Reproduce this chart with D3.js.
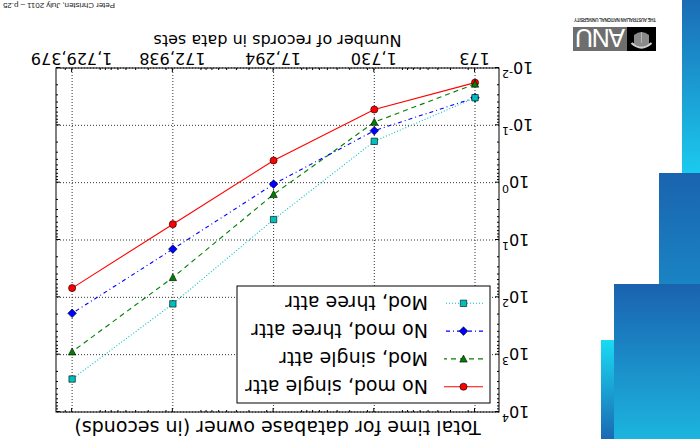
<!DOCTYPE html>
<html>
<head>
<meta charset="utf-8">
<script src="https://cdn.jsdelivr.net/npm/d3@7"></script>
<style>
  body { margin: 0; background: #fff; }
  svg { display: block; font-family: "DejaVu Sans", sans-serif; }
</style>
</head>
<body>
<svg id="slide"></svg>
<script>
// number of records in each data set (x axis)
const recordCounts = [173, 1730, 17294, 172938, 1729379];
const recordLabels = ['173', '1,730', '17,294', '172,938', '1,729,379'];

// total time in seconds
const noModSingleAttr = [0.018, 0.053, 0.41, 5.3, 69];
const modSingleAttr   = [0.019, 0.088, 1.6, 45, 890];
const noModThreeAttr  = [0.033, 0.124, 1.06, 14.4, 190];
const modThreeAttr    = [0.033, 0.19, 4.4, 130, 2660];

const seriesNames = ['No mod, single attr', 'Mod, single attr', 'No mod, three attr', 'Mod, three attr'];
const yExponents = [-2, -1, 0, 1, 2, 3, 4];

class slideChart {

  constructor(_config) {
    this.config = {
      parentElement: _config.parentElement,
      containerWidth: _config.containerWidth || 700,
      containerHeight: _config.containerHeight || 439,
      plot: _config.plot || {left: 201, right: 644, top: 27, bottom: 371}
    };
    this.series = [noModSingleAttr, modSingleAttr, noModThreeAttr, modThreeAttr].map((vals, i) => ({
      name: seriesNames[i],
      points: vals.map((v, j) => ({x: recordCounts[j], y: v}))
    }));
    this.styles = [
      {color: '#ff0000', dash: null,      marker: 'circle'},
      {color: '#008000', dash: '5,4',     marker: 'triangle'},
      {color: '#0000ff', dash: '4,3,1,3', marker: 'diamond'},
      {color: '#00bfbf', dash: '1,2',     marker: 'square'}
    ];
    this.initVis();
  }

  markerPath(type) {
    switch (type) {
      case 'circle':   return d3.symbol(d3.symbolCircle, 40)();
      case 'square':   return 'M-3.2,-3.2h6.4v6.4h-6.4Z';
      case 'diamond':  return 'M0,-4.3L4.3,0L0,4.3L-4.3,0Z';
      case 'triangle': return 'M0,3.8L3.7,-3.2L-3.7,-3.2Z';
    }
  }

  initVis() {
    let vis = this;
    let p = vis.config.plot;

    vis.svg = d3.select(vis.config.parentElement)
        .attr('width', vis.config.containerWidth)
        .attr('height', vis.config.containerHeight);

    // the whole slide is shown upside down
    vis.slide = vis.svg.append('g')
        .attr('transform', `rotate(180 ${vis.config.containerWidth / 2} ${vis.config.containerHeight / 2})`);

    vis.xScale = d3.scaleLog().domain([100, 2.5e6]).range([p.left, p.right]);
    vis.yScale = d3.scaleLog().domain([1e-2, 1e4]).range([p.bottom, p.top]);

    vis.drawTheme();
    vis.renderVis();
  }

  drawTheme() {
    let vis = this;
    let defs = vis.svg.append('defs');
    const grad = (id, c0, c1) => {
      let g = defs.append('linearGradient').attr('id', id)
          .attr('x1', 0).attr('y1', 0).attr('x2', 0).attr('y2', 1);
      g.append('stop').attr('offset', '0%').attr('stop-color', c0);
      g.append('stop').attr('offset', '100%').attr('stop-color', c1);
    };
    grad('gA', '#1bcaee', '#1b6cb5');
    grad('gB', '#1ab2df', '#1a63af');
    grad('gC', '#1cb5df', '#1a62af');
    grad('gD', '#1a69b2', '#19dbf3');

    let bars = vis.slide.append('g');
    bars.append('rect').attr('x', 0).attr('y', 266).attr('width', 18).attr('height', 173).attr('fill', 'url(#gA)');
    bars.append('rect').attr('x', 0).attr('y', 0).attr('width', 41).attr('height', 266).attr('fill', 'url(#gB)');
    bars.append('rect').attr('x', 0).attr('y', 0).attr('width', 86).attr('height', 155).attr('fill', 'url(#gC)');
    bars.append('rect').attr('x', 86).attr('y', 0).attr('width', 13).attr('height', 99).attr('fill', 'url(#gD)');

    // ANU logo
    let logo = vis.slide.append('g');
    logo.append('rect').attr('x', 44).attr('y', 388).attr('width', 29).attr('height', 24).attr('fill', '#000');
    logo.append('path')
        .attr('d', 'M51,395 Q58.5,390 66,395 L66,404 Q58.5,410 51,404 Z')
        .attr('fill', '#8a8a8a');
    logo.append('path')
        .attr('d', 'M48.5,396 Q58.5,387 68.5,396')
        .attr('fill', 'none').attr('stroke', '#d0d0d0').attr('stroke-width', 2.2);
    logo.append('line')
        .attr('x1', 58.5).attr('x2', 58.5).attr('y1', 396).attr('y2', 407)
        .attr('stroke', '#b5b5b5').attr('stroke-width', 1);
    logo.append('rect').attr('x', 73).attr('y', 388).attr('width', 54).attr('height', 24).attr('fill', '#6e6e6e');
    logo.append('text')
        .attr('x', 100).attr('y', 410)
        .attr('text-anchor', 'middle')
        .attr('textLength', 50)
        .style('font-family', '"Liberation Sans", sans-serif')
        .style('font-size', '25px')
        .attr('fill', '#fff')
        .text('ANU');
    logo.append('text')
        .attr('x', 44).attr('y', 421)
        .attr('textLength', 82)
        .style('font-family', '"Liberation Sans", sans-serif')
        .style('font-size', '4.5px')
        .style('font-weight', 'bold')
        .attr('fill', '#333')
        .text('THE AUSTRALIAN NATIONAL UNIVERSITY');

    vis.slide.append('text')
        .attr('x', 697).attr('y', 436)
        .attr('text-anchor', 'end')
        .attr('textLength', 112)
        .style('font-family', '"Liberation Sans", sans-serif')
        .style('font-size', '8px')
        .attr('fill', '#222')
        .text('Peter Christen, July 2011 \u2013 p.25');
  }

  renderVis() {
    let vis = this;
    let p = vis.config.plot;
    let chart = vis.slide.append('g');

    let yMajor = yExponents.map(e => Math.pow(10, e));
    let yMinor = [];
    yExponents.slice(0, -1).forEach(e => {
      for (let m = 2; m < 10; m++) yMinor.push(m * Math.pow(10, e));
    });
    let xMinor = [];
    for (let e = 2; e <= 6; e++) {
      for (let m = 2; m < 10; m++) {
        let v = m * Math.pow(10, e);
        if (v <= 2.5e6) xMinor.push(v);
      }
    }

    // dotted grid
    chart.append('g').selectAll('line.vgrid')
        .data(recordCounts)
      .join('line')
        .attr('x1', d => vis.xScale(d)).attr('x2', d => vis.xScale(d))
        .attr('y1', p.top).attr('y2', p.bottom)
        .attr('stroke', '#333').attr('stroke-width', 1).attr('stroke-dasharray', '1,2');
    chart.append('g').selectAll('line.hgrid')
        .data(yMajor)
      .join('line')
        .attr('y1', d => vis.yScale(d)).attr('y2', d => vis.yScale(d))
        .attr('x1', p.left).attr('x2', p.right)
        .attr('stroke', '#333').attr('stroke-width', 1).attr('stroke-dasharray', '1,2');

    // ticks on all four sides, pointing inwards
    const addAxis = (axis, tx, ty) => {
      let g = chart.append('g').attr('transform', `translate(${tx},${ty})`).call(axis);
      g.select('.domain').remove();
      g.selectAll('.tick line').attr('stroke', '#000');
      return g;
    };
    addAxis(d3.axisLeft(vis.yScale).tickValues(yMinor).tickSize(-2).tickFormat(''), p.left, 0);
    addAxis(d3.axisRight(vis.yScale).tickValues(yMinor).tickSize(-2).tickFormat(''), p.right, 0);
    addAxis(d3.axisRight(vis.yScale).tickValues(yMajor).tickSize(-4).tickFormat(''), p.right, 0);
    addAxis(d3.axisBottom(vis.xScale).tickValues(xMinor).tickSize(-2).tickFormat(''), 0, p.bottom);
    addAxis(d3.axisTop(vis.xScale).tickValues(xMinor).tickSize(-2).tickFormat(''), 0, p.top);
    addAxis(d3.axisTop(vis.xScale).tickValues(recordCounts).tickSize(-4).tickFormat(''), 0, p.top);

    let xAxisG = addAxis(d3.axisBottom(vis.xScale)
        .tickValues(recordCounts)
        .tickSize(-4)
        .tickPadding(4)
        .tickFormat((d, i) => recordLabels[i]), 0, p.bottom);
    xAxisG.attr('font-family', null).attr('font-size', null);
    xAxisG.selectAll('.tick text').style('font-size', '16px').attr('fill', '#000');

    let yAxisG = addAxis(d3.axisLeft(vis.yScale)
        .tickValues(yMajor)
        .tickSize(-4)
        .tickPadding(3)
        .tickFormat(''), p.left, 0);
    yAxisG.attr('font-family', null).attr('font-size', null);
    yAxisG.selectAll('.tick text')
        .attr('fill', '#000')
        .attr('dy', '0.36em')
        .each(function(d, i) {
          let t = d3.select(this);
          t.append('tspan').style('font-size', '16px').text('10');
          t.append('tspan').style('font-size', '11px').attr('dy', '-0.75em').text(String(yExponents[i]));
        });

    // series lines and markers
    let line = d3.line().x(d => vis.xScale(d.x)).y(d => vis.yScale(d.y));
    vis.series.forEach((s, i) => {
      let st = vis.styles[i];
      chart.append('path')
          .datum(s.points)
          .attr('d', line)
          .attr('fill', 'none')
          .attr('stroke', st.color)
          .attr('stroke-width', 1.1)
          .attr('stroke-dasharray', st.dash);
      chart.append('g').selectAll('path')
          .data(s.points)
        .join('path')
          .attr('transform', d => `translate(${vis.xScale(d.x)},${vis.yScale(d.y)})`)
          .attr('d', vis.markerPath(st.marker))
          .attr('fill', st.color)
          .attr('stroke', '#000')
          .attr('stroke-width', 0.6);
    });

    chart.append('rect')
        .attr('x', p.left).attr('y', p.top)
        .attr('width', p.right - p.left).attr('height', p.bottom - p.top)
        .attr('fill', 'none').attr('stroke', '#000').attr('stroke-width', 1);

    // axis labels
    chart.append('text')
        .attr('x', (p.left + p.right) / 2).attr('y', 404)
        .attr('text-anchor', 'middle')
        .style('font-size', '16px')
        .text('Number of records in data sets');
    chart.append('text')
        .attr('x', (p.left + p.right) / 2).attr('y', 18)
        .attr('text-anchor', 'middle')
        .style('font-size', '19px')
        .text('Total time for database owner (in seconds)');

    // legend
    let legend = chart.append('g');
    legend.append('rect')
        .attr('x', 210).attr('y', 36).attr('width', 253).attr('height', 117)
        .attr('fill', '#fff').attr('stroke', '#000').attr('stroke-width', 1);
    let rowY = d3.scalePoint().domain(seriesNames).range([52.3, 135.7]);
    vis.series.forEach((s, i) => {
      let st = vis.styles[i];
      let y = rowY(s.name);
      legend.append('line')
          .attr('x1', 217).attr('x2', 256).attr('y1', y).attr('y2', y)
          .attr('stroke', st.color).attr('stroke-width', 1.1)
          .attr('stroke-dasharray', st.dash);
      legend.append('path')
          .attr('transform', `translate(236.5,${y})`)
          .attr('d', vis.markerPath(st.marker))
          .attr('fill', st.color).attr('stroke', '#000').attr('stroke-width', 0.6);
      legend.append('text')
          .attr('x', 272).attr('y', y + 7)
          .style('font-size', '19px')
          .text(s.name);
    });
  }
}

new slideChart({parentElement: '#slide'});
</script>
</body>
</html>
